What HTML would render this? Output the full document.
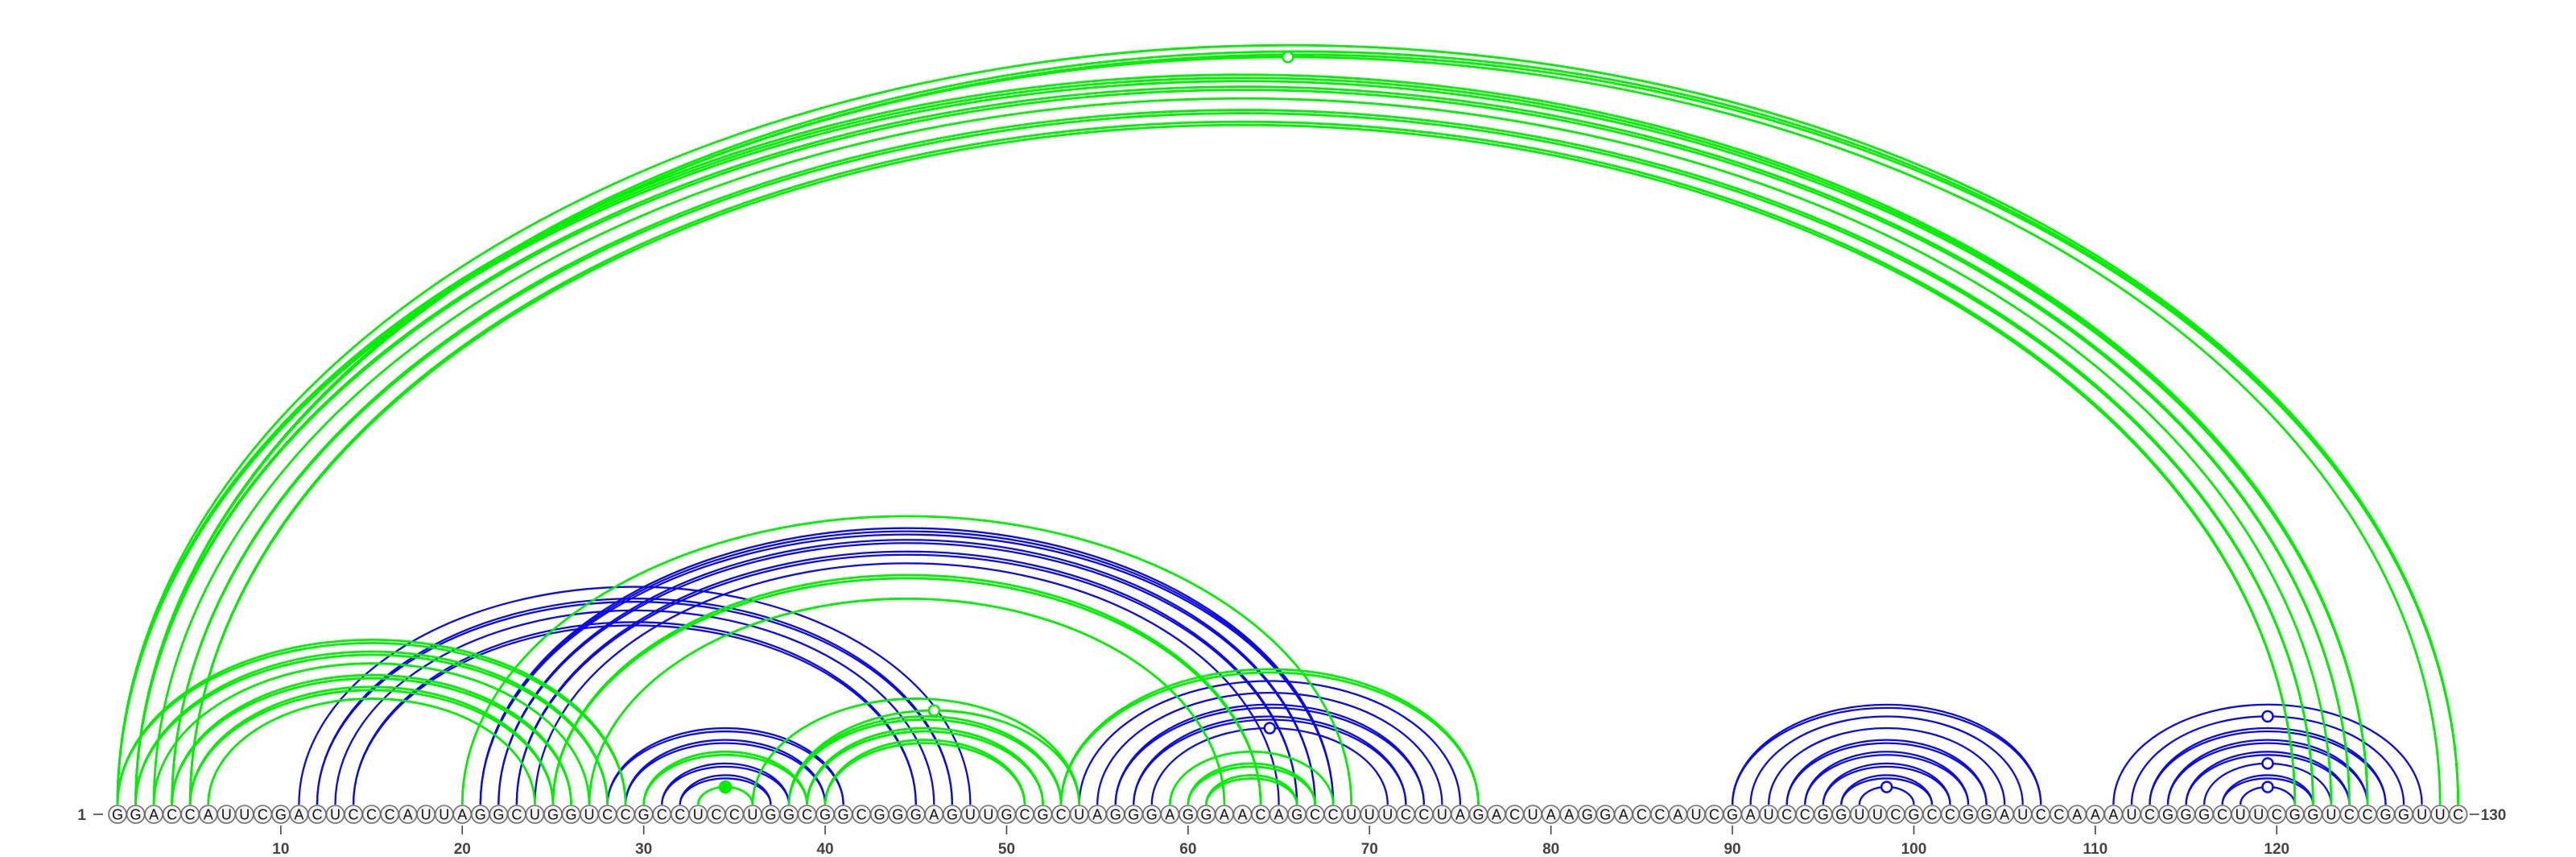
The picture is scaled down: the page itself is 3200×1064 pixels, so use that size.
<!DOCTYPE html>
<html><head><meta charset="utf-8"><style>
html,body{margin:0;padding:0;background:#fff;}
svg{display:block;}
</style></head><body>
<svg id="chart" width="3200" height="1064" viewBox="0 0 3200 1064" xmlns="http://www.w3.org/2000/svg">
<g id="arcs"></g>
<g id="markers"></g>
<g id="bases"></g>
<g id="axis"></g>
</svg>
<script>
const sequence = "GGACCAUUCGACUCCCAUUAGGCUGGUCCGCCUCCUGGCGGCGGGAGUUGCGCUAGGGAGGAACAGCCUUUCCUAGACUAAGGACCAUCGAUCCGGUUCGCCGGAUCCAAAUCGGGCUUCGGUCCGGUUC";
// green structure pairs
const greenStart = [1,2,2,1,2,3,4,5, 1,2,3,4,5,6, 20,25,27, 30,33, 36,38,38,39,40, 53, 59,60,61];
const greenEnd   = [130,130,129,125,124,123,122,121, 29,28,27,26,25,24, 69,64,62, 39,36, 54,54,53,52,51, 76, 68,67,66];
const greenMult  = [1,2,1,3,2,1,2,2, 2,2,1,2,2,1, 1,2,1, 2,1, 1,1,2,2,2, 2, 1,2,2];
// blue structure pairs
const blueStart = [11,12,13,14, 21,22,23,24, 28,29,31,32, 54,55,56,57,58, 90,91,92,93,94,95,96,97, 111,112,113,114,115,116,117,118];
const blueEnd   = [48,47,46,45, 68,67,66,65, 41,40,38,37, 75,74,73,72,71, 107,106,105,104,103,102,101,100, 128,127,126,125,124,123,122,121];
const blueMult  = [1,2,1,2, 3,2,2,1, 2,2,2,2, 1,1,2,2,1, 2,1,1,2,2,2,2,1, 1,1,2,2,2,1,2,1];
// arcs carrying a marker at their apex: [start,end]
const markerStart = [2,38,58,97,112,116,118,33];
const markerEnd   = [129,54,71,100,127,123,121,36];
const markerColor = ["green","green","blue","blue","blue","blue","blue","green"];
const markerFilled = [0,0,0,0,0,0,0,1];
const tickValues = [10,20,30,40,50,60,70,80,90,100,110,120];

const NS="http://www.w3.org/2000/svg";
const X0=146, SP=22.54, Y0=999, CY=1011, K=0.6485;
const xPos = i => X0 + (i-1)*SP;
const GREEN="#00ee00", BLUE="#0a0ae8";
const arcsG=document.getElementById('arcs');
function drawArc(a,b,color,mult,w){
  const xa=xPos(a), xb=xPos(b), rx=(xb-xa)/2, ry=rx*K;
  for(let m=0;m<mult;m++){
    const p=document.createElementNS(NS,'path');
    const r=Math.max(ry-m*4,2);
    p.setAttribute('d',`M${xa},${Y0} A${rx},${r} 0 0 1 ${xb},${Y0}`);
    p.setAttribute('fill','none');
    p.setAttribute('stroke',color);
    p.setAttribute('stroke-width',w);
    
    
    arcsG.appendChild(p);
  }
}
for(let i=0;i<blueStart.length;i++) drawArc(blueStart[i],blueEnd[i],BLUE,blueMult[i],2.3);
for(let i=0;i<greenStart.length;i++) drawArc(greenStart[i],greenEnd[i],GREEN,greenMult[i],2.8);

const mk=document.getElementById('markers');
for(let i=0;i<markerStart.length;i++){
  const xa=xPos(markerStart[i]), xb=xPos(markerEnd[i]);
  const c=document.createElementNS(NS,'circle');
  c.setAttribute('cx',(xa+xb)/2);
  c.setAttribute('cy',Y0-(xb-xa)/2*K);
  const col=markerColor[i]==="green"?GREEN:BLUE;
  c.setAttribute('r',markerFilled[i]?7:6.5);
  c.setAttribute('fill',markerFilled[i]?col:'#fff');
  c.setAttribute('stroke',col);
  c.setAttribute('stroke-width',2.5);
  
  
  mk.appendChild(c);
}

const bases=document.getElementById('bases');
for(let i=1;i<=sequence.length;i++){
  const g=document.createElementNS(NS,'g');
  
  
  const c=document.createElementNS(NS,'circle');
  c.setAttribute('cx',xPos(i)); c.setAttribute('cy',CY); c.setAttribute('r',11);
  c.setAttribute('fill','#f2f2f2'); c.setAttribute('stroke','#6a6a6a'); c.setAttribute('stroke-width',1.6);
  g.appendChild(c);
  const t=document.createElementNS(NS,'text');
  t.setAttribute('x',xPos(i)); t.setAttribute('y',CY+6.5);
  t.setAttribute('text-anchor','middle');
  t.setAttribute('font-family','"Liberation Sans", sans-serif');
  t.setAttribute('font-size','18');
  t.setAttribute('fill','#111');
  t.textContent=sequence[i-1];
  g.appendChild(t);
  bases.appendChild(g);
}

const ax=document.getElementById('axis');
function txt(x,y,s,anchor,name){
  const t=document.createElementNS(NS,'text');
  t.setAttribute('x',x); t.setAttribute('y',y);
  t.setAttribute('text-anchor',anchor);
  t.setAttribute('font-family','"Liberation Sans", sans-serif');
  t.setAttribute('font-size','19');
  t.setAttribute('font-weight','bold');
  t.setAttribute('fill','#444');
  
  
  t.textContent=s;
  ax.appendChild(t);
}
function line(x1,y1,x2,y2,name){
  const l=document.createElementNS(NS,'line');
  l.setAttribute('x1',x1);l.setAttribute('y1',y1);l.setAttribute('x2',x2);l.setAttribute('y2',y2);
  l.setAttribute('stroke','#444');l.setAttribute('stroke-width',1.6);
  
  
  ax.appendChild(l);
}
txt(107,1018,"1","end","start-label");
line(116,1011,128,1011,"start-dash");
line(xPos(sequence.length)+14,1011,xPos(sequence.length)+26,1011,"end-dash");
txt(xPos(sequence.length)+28,1018,String(sequence.length),"start","end-label");
tickValues.forEach(v=>{
  line(xPos(v),1025,xPos(v),1036,"tick-mark");
  txt(xPos(v),1060,String(v),"middle","tick-label");
});
</script>
</body></html>
